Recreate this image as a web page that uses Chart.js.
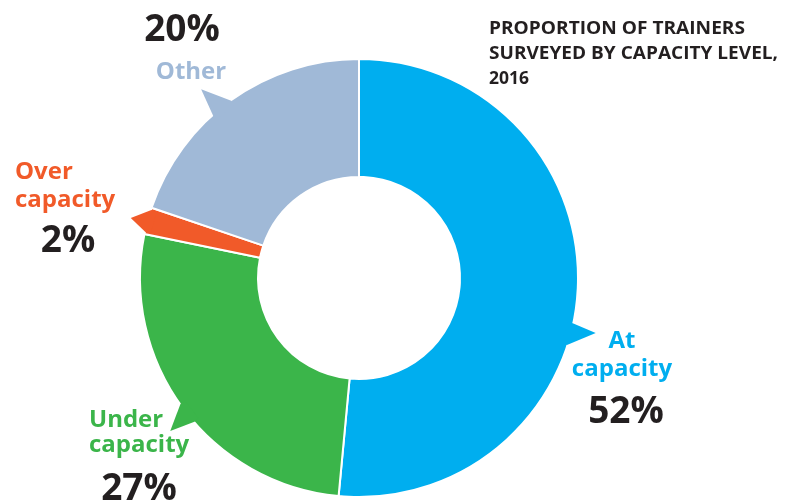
<!DOCTYPE html>
<html>
<head>
<meta charset="utf-8">
<script src="https://cdn.jsdelivr.net/npm/chart.js@4/dist/chart.umd.min.js"></script>
<style>
  html, body { margin: 0; padding: 0; background: #ffffff; }
  #wrap { width: 796px; height: 502px; position: relative; }
</style>
</head>
<body>
<div id="wrap"><canvas id="c" width="796" height="502"></canvas></div>
<script>
// ---- data ----
const categories = ['At capacity', 'Under capacity', 'Over capacity', 'Other'];
const shares = [52, 27, 2, 20];
const shareLabels = ['52%', '27%', '2%', '20%'];
const titleLines = ['PROPORTION OF TRAINERS', 'SURVEYED BY CAPACITY LEVEL,', '2016'];

// ---- styles ----
const colors = ['#00AEEF', '#3BB54A', '#F15A29', '#A0B9D7'];
const darkText = '#231F20';
const FONT = '"Open Sans", "Noto Sans", sans-serif';
const titleWidths = [256, 289, 40];

// callout pointer shapes: fractions along each arc + tip distance beyond rim
const callouts = [
  { a: 0.550, b: 0.582, tip: 0.556, out: 24 },
  { a: 0.452, b: 0.514, tip: 0.474, out: 24 },
  { a: 0.08,  b: 0.92,  tip: 0.44,  out: 17 },
  { a: 0.412, b: 0.498, tip: 0.440, out: 27 }
];

// label layout (category words, share text)
const labelLayout = [
  { lines: ['At', 'capacity'], align: 'center', x: 622, ys: [348, 376], pctX: 626, pctY: 423 },
  { lines: ['Under', 'capacity'], align: 'left', x: 89, ys: [427, 452], pctX: 139, pctY: 500 },
  { lines: ['Over', 'capacity'], align: 'left', x: 15, ys: [179, 207], pctX: 68, pctY: 252 },
  { lines: ['Other'], align: 'center', x: 191, ys: [79], pctX: 182, pctY: 41 }
];

const decorPlugin = {
  id: 'decor',
  afterDatasetsDraw(chart) {
    const ctx = chart.ctx;
    const arcs = chart.getDatasetMeta(0).data;
    arcs.forEach((arc, i) => {
      const p = arc.getProps(['x', 'y', 'startAngle', 'endAngle', 'outerRadius'], true);
      const c = callouts[i];
      const span = p.endAngle - p.startAngle;
      const a1 = p.startAngle + span * c.a;
      const a2 = p.startAngle + span * c.b;
      const at = p.startAngle + span * c.tip;
      const rIn = p.outerRadius - 6;
      const rTip = p.outerRadius + c.out;
      ctx.save();
      ctx.fillStyle = colors[i];
      ctx.beginPath();
      ctx.moveTo(p.x + Math.cos(a1) * rIn, p.y + Math.sin(a1) * rIn);
      ctx.lineTo(p.x + Math.cos(a1) * (p.outerRadius - 0.5), p.y + Math.sin(a1) * (p.outerRadius - 0.5));
      ctx.lineTo(p.x + Math.cos(at) * rTip, p.y + Math.sin(at) * rTip);
      ctx.lineTo(p.x + Math.cos(a2) * (p.outerRadius - 0.5), p.y + Math.sin(a2) * (p.outerRadius - 0.5));
      ctx.lineTo(p.x + Math.cos(a2) * rIn, p.y + Math.sin(a2) * rIn);
      ctx.closePath();
      ctx.fill();
      ctx.restore();
    });
  },
  afterDraw(chart) {
    const ctx = chart.ctx;
    ctx.save();
    ctx.textBaseline = 'alphabetic';
    labelLayout.forEach((L, i) => {
      ctx.fillStyle = colors[i];
      ctx.font = 'bold 24px ' + FONT;
      ctx.textAlign = L.align;
      L.lines.forEach((t, k) => ctx.fillText(t, L.x, L.ys[k]));
      ctx.fillStyle = darkText;
      ctx.font = 'bold 37px ' + FONT;
      ctx.textAlign = 'center';
      ctx.fillText(shareLabels[i], L.pctX, L.pctY);
    });
    ctx.fillStyle = darkText;
    ctx.font = 'bold 18.5px ' + FONT;
    ctx.textAlign = 'left';
    titleLines.forEach((t, k) => {
      const w = ctx.measureText(t).width;
      const s = titleWidths[k] / w;
      ctx.save();
      ctx.translate(489, 34 + k * 25);
      ctx.scale(s, 1);
      ctx.fillText(t, 0, 0);
      ctx.restore();
    });
    ctx.restore();
  }
};

new Chart(document.getElementById('c'), {
  type: 'doughnut',
  data: {
    labels: categories,
    datasets: [{
      data: shares,
      backgroundColor: colors,
      borderColor: '#ffffff',
      borderWidth: 2,
      hoverOffset: 0
    }]
  },
  options: {
    responsive: false,
    animation: false,
    cutout: 101,
    layout: { padding: { left: 139, right: 217, top: 58, bottom: 4 } },
    plugins: { legend: { display: false }, tooltip: { enabled: false }, title: { display: false } }
  },
  plugins: [decorPlugin]
});
</script>
</body>
</html>
